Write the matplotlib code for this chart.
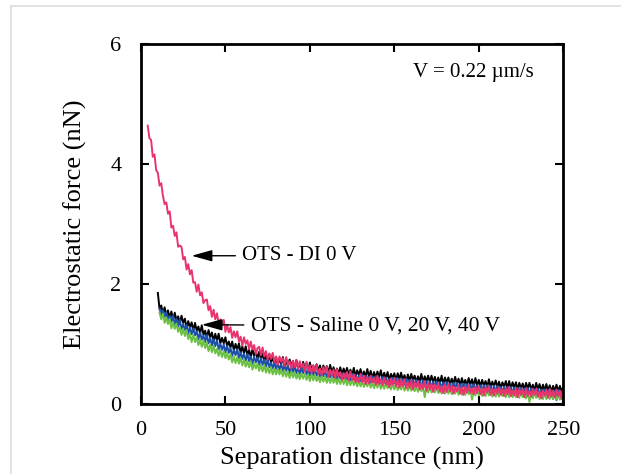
import numpy as np
import matplotlib.pyplot as plt
from matplotlib.lines import Line2D

plt.rcParams['font.family'] = ['Liberation Serif', 'DejaVu Serif']

# OTS - DI 0 V (pink), separation 4..250 nm, 1 nm step
x_di = np.arange(4, 251)
f_di = [4.64, 4.43, 4.40, 4.12, 4.16, 3.90, 3.85, 3.64, 3.68, 3.47,
        3.33, 3.36, 3.17, 3.21, 2.94, 2.97, 2.80, 2.86, 2.62, 2.64,
        2.62, 2.41, 2.45, 2.24, 2.33, 2.16, 2.23, 2.02, 2.03, 1.87,
        1.99, 1.81, 1.86, 1.68, 1.73, 1.74, 1.56, 1.63, 1.45, 1.57,
        1.41, 1.51, 1.33, 1.41, 1.32, 1.40, 1.20, 1.32, 1.19, 1.28,
        1.10, 1.21, 1.11, 1.21, 1.04, 1.12, 0.97, 1.11, 1.00, 1.06,
        0.91, 1.04, 0.91, 0.98, 0.83, 0.93, 0.95, 0.81, 0.94, 0.79,
        0.88, 0.74, 0.84, 0.75, 0.85, 0.70, 0.79, 0.65, 0.79, 0.70,
        0.76, 0.63, 0.78, 0.65, 0.71, 0.59, 0.72, 0.61, 0.73, 0.58,
        0.71, 0.60, 0.67, 0.54, 0.70, 0.55, 0.64, 0.52, 0.64, 0.54,
        0.65, 0.50, 0.59, 0.48, 0.61, 0.52, 0.62, 0.45, 0.57, 0.47,
        0.57, 0.43, 0.58, 0.46, 0.53, 0.40, 0.51, 0.42, 0.53, 0.39,
        0.54, 0.40, 0.49, 0.36, 0.45, 0.36, 0.50, 0.36, 0.47, 0.33,
        0.45, 0.34, 0.47, 0.36, 0.43, 0.32, 0.47, 0.33, 0.41, 0.31,
        0.44, 0.32, 0.40, 0.28, 0.42, 0.32, 0.43, 0.29, 0.40, 0.27,
        0.40, 0.30, 0.41, 0.26, 0.36, 0.27, 0.39, 0.24, 0.36, 0.28,
        0.38, 0.24, 0.34, 0.25, 0.38, 0.22, 0.34, 0.24, 0.34, 0.20,
        0.32, 0.24, 0.34, 0.20, 0.30, 0.18, 0.32, 0.20, 0.33, 0.21,
        0.31, 0.17, 0.28, 0.21, 0.31, 0.17, 0.28, 0.15, 0.29, 0.19,
        0.31, 0.18, 0.26, 0.16, 0.29, 0.18, 0.29, 0.16, 0.26, 0.14,
        0.28, 0.19, 0.29, 0.15, 0.25, 0.14, 0.26, 0.17, 0.27, 0.15,
        0.25, 0.13, 0.26, 0.16, 0.28, 0.13, 0.22, 0.14, 0.26, 0.11,
        0.25, 0.15, 0.24, 0.11, 0.26, 0.13, 0.22, 0.12, 0.25, 0.15,
        0.25, 0.12, 0.21, 0.09, 0.22, 0.14, 0.23, 0.10, 0.25, 0.12,
        0.22, 0.11, 0.24, 0.13, 0.22, 0.08, 0.20]

# OTS - Saline 0 V (black), 10..250 nm
x_s0 = np.arange(10, 251)
f_s0 = [1.85, 1.58, 1.64, 1.50, 1.61, 1.47, 1.56, 1.42, 1.54, 1.40,
        1.52, 1.39, 1.46, 1.34, 1.47, 1.35, 1.42, 1.26, 1.38, 1.27,
        1.36, 1.22, 1.35, 1.22, 1.29, 1.17, 1.31, 1.15, 1.22, 1.10,
        1.23, 1.11, 1.19, 1.04, 1.17, 1.05, 1.17, 1.01, 1.10, 1.01,
        1.11, 0.96, 1.04, 0.94, 1.04, 0.89, 1.00, 0.90, 1.01, 0.85,
        0.96, 0.84, 0.96, 0.81, 0.90, 0.78, 0.91, 0.80, 0.87, 0.75,
        0.87, 0.75, 0.84, 0.71, 0.82, 0.71, 0.83, 0.68, 0.78, 0.68,
        0.78, 0.65, 0.76, 0.66, 0.78, 0.62, 0.72, 0.63, 0.74, 0.64,
        0.71, 0.58, 0.73, 0.59, 0.68, 0.57, 0.70, 0.58, 0.68, 0.54,
        0.69, 0.56, 0.64, 0.54, 0.66, 0.56, 0.64, 0.51, 0.64, 0.53,
        0.63, 0.51, 0.65, 0.52, 0.61, 0.48, 0.59, 0.50, 0.61, 0.48,
        0.59, 0.50, 0.60, 0.47, 0.57, 0.47, 0.60, 0.45, 0.56, 0.48,
        0.58, 0.45, 0.54, 0.45, 0.58, 0.45, 0.55, 0.42, 0.53, 0.43,
        0.54, 0.44, 0.56, 0.41, 0.52, 0.42, 0.53, 0.39, 0.50, 0.43,
        0.51, 0.39, 0.51, 0.41, 0.52, 0.39, 0.48, 0.37, 0.49, 0.38,
        0.50, 0.39, 0.47, 0.36, 0.46, 0.37, 0.50, 0.35, 0.46, 0.37,
        0.47, 0.36, 0.47, 0.36, 0.45, 0.34, 0.44, 0.34, 0.47, 0.33,
        0.44, 0.35, 0.44, 0.32, 0.42, 0.33, 0.45, 0.33, 0.42, 0.30,
        0.43, 0.32, 0.40, 0.30, 0.43, 0.32, 0.41, 0.29, 0.43, 0.30,
        0.40, 0.29, 0.40, 0.30, 0.38, 0.28, 0.41, 0.28, 0.37, 0.29,
        0.39, 0.28, 0.37, 0.26, 0.36, 0.28, 0.38, 0.26, 0.38, 0.25,
        0.36, 0.27, 0.36, 0.24, 0.35, 0.25, 0.34, 0.23, 0.35, 0.25,
        0.35, 0.24, 0.32, 0.22, 0.35, 0.24, 0.33, 0.21, 0.32, 0.22,
        0.33, 0.22, 0.31, 0.20, 0.30, 0.21, 0.32, 0.20, 0.30, 0.21,
        0.28]

# OTS - Saline 20 V (blue), 11..250 nm
x_s20 = np.arange(11, 251)
f_s20 = [1.59, 1.48, 1.56, 1.45, 1.53, 1.38, 1.47, 1.37, 1.47, 1.32,
         1.42, 1.29, 1.40, 1.25, 1.33, 1.23, 1.32, 1.17, 1.28, 1.16,
         1.26, 1.14, 1.21, 1.08, 1.19, 1.07, 1.14, 1.03, 1.15, 1.01,
         1.10, 0.97, 1.08, 0.96, 1.06, 0.91, 1.00, 0.90, 0.99, 0.86,
         0.97, 0.85, 0.93, 0.80, 0.90, 0.81, 0.91, 0.76, 0.86, 0.75,
         0.84, 0.72, 0.83, 0.71, 0.79, 0.67, 0.79, 0.69, 0.77, 0.65,
         0.76, 0.65, 0.74, 0.62, 0.74, 0.61, 0.69, 0.59, 0.69, 0.58,
         0.67, 0.57, 0.67, 0.55, 0.64, 0.55, 0.65, 0.51, 0.63, 0.53,
         0.63, 0.51, 0.60, 0.50, 0.60, 0.51, 0.61, 0.49, 0.58, 0.47,
         0.58, 0.48, 0.58, 0.47, 0.55, 0.45, 0.55, 0.46, 0.56, 0.44,
         0.53, 0.44, 0.54, 0.44, 0.53, 0.41, 0.51, 0.42, 0.51, 0.42,
         0.51, 0.40, 0.49, 0.39, 0.50, 0.40, 0.49, 0.38, 0.47, 0.38,
         0.49, 0.38, 0.47, 0.37, 0.45, 0.35, 0.46, 0.36, 0.46, 0.35,
         0.44, 0.34, 0.45, 0.35, 0.44, 0.33, 0.42, 0.32, 0.43, 0.34,
         0.43, 0.33, 0.42, 0.31, 0.41, 0.32, 0.42, 0.31, 0.40, 0.30,
         0.40, 0.30, 0.40, 0.30, 0.38, 0.28, 0.39, 0.29, 0.38, 0.28,
         0.37, 0.28, 0.37, 0.28, 0.38, 0.27, 0.36, 0.26, 0.36, 0.27,
         0.36, 0.26, 0.34, 0.24, 0.35, 0.26, 0.35, 0.24, 0.33, 0.24,
         0.34, 0.25, 0.33, 0.23, 0.32, 0.23, 0.33, 0.23, 0.31, 0.22,
         0.31, 0.22, 0.31, 0.22, 0.31, 0.21, 0.30, 0.20, 0.30, 0.21,
         0.30, 0.20, 0.28, 0.19, 0.29, 0.20, 0.28, 0.18, 0.28, 0.18,
         0.27, 0.18, 0.27, 0.18, 0.27, 0.17, 0.26, 0.16, 0.26, 0.17,
         0.26, 0.16, 0.24, 0.14, 0.25, 0.16, 0.24, 0.13, 0.24, 0.14,
         0.23, 0.14, 0.23, 0.08, 0.22, 0.06, 0.23, 0.12, 0.21, 0.12]

# OTS - Saline 40 V (green), 11..250 nm
x_s40 = np.arange(11, 251)
f_s40 = [1.52, 1.41, 1.50, 1.35, 1.44, 1.33, 1.42, 1.26, 1.36, 1.25,
         1.34, 1.20, 1.28, 1.15, 1.25, 1.13, 1.23, 1.08, 1.17, 1.03,
         1.15, 1.03, 1.11, 0.98, 1.07, 0.95, 1.06, 0.93, 1.02, 0.88,
         0.99, 0.86, 0.97, 0.84, 0.92, 0.80, 0.90, 0.78, 0.88, 0.76,
         0.85, 0.74, 0.83, 0.69, 0.79, 0.68, 0.78, 0.67, 0.77, 0.64,
         0.74, 0.62, 0.71, 0.61, 0.71, 0.57, 0.68, 0.59, 0.67, 0.55,
         0.65, 0.54, 0.65, 0.52, 0.61, 0.51, 0.61, 0.49, 0.59, 0.49,
         0.58, 0.49, 0.57, 0.46, 0.56, 0.45, 0.54, 0.43, 0.54, 0.44,
         0.53, 0.42, 0.51, 0.41, 0.51, 0.42, 0.50, 0.40, 0.49, 0.38,
         0.49, 0.39, 0.48, 0.38, 0.46, 0.36, 0.46, 0.37, 0.46, 0.35,
         0.44, 0.35, 0.44, 0.35, 0.44, 0.33, 0.42, 0.33, 0.42, 0.33,
         0.42, 0.31, 0.40, 0.31, 0.40, 0.31, 0.39, 0.29, 0.39, 0.29,
         0.38, 0.28, 0.38, 0.29, 0.37, 0.27, 0.36, 0.26, 0.36, 0.27,
         0.36, 0.25, 0.34, 0.25, 0.35, 0.26, 0.33, 0.24, 0.34, 0.24,
         0.33, 0.23, 0.33, 0.24, 0.32, 0.22, 0.31, 0.22, 0.31, 0.22,
         0.31, 0.21, 0.29, 0.20, 0.30, 0.21, 0.29, 0.11, 0.29, 0.19,
         0.28, 0.19, 0.28, 0.19, 0.28, 0.18, 0.27, 0.17, 0.27, 0.17,
         0.27, 0.17, 0.25, 0.16, 0.26, 0.17, 0.25, 0.15, 0.25, 0.15,
         0.24, 0.15, 0.25, 0.16, 0.24, 0.07, 0.23, 0.14, 0.24, 0.14,
         0.24, 0.13, 0.22, 0.13, 0.23, 0.14, 0.22, 0.12, 0.22, 0.12,
         0.21, 0.12, 0.22, 0.13, 0.21, 0.11, 0.20, 0.11, 0.21, 0.11,
         0.21, 0.11, 0.19, 0.10, 0.20, 0.11, 0.19, 0.09, 0.19, 0.03,
         0.18, 0.09, 0.19, 0.10, 0.18, 0.08, 0.17, 0.08, 0.18, 0.08,
         0.17, 0.08, 0.17, 0.08, 0.17, 0.07, 0.16, 0.07, 0.17, 0.07]

fig = plt.figure(figsize=(6.21, 4.74), dpi=100)
ax = fig.add_axes([0.227, 0.148, 0.68, 0.759])

ax.plot(x_s0, f_s0, color='black', lw=1.4)
ax.plot(x_s20, f_s20, color='#1c4fa8', lw=1.4)
ax.plot(x_s40, f_s40, color='#6cc043', lw=1.4)
ax.plot(x_di, f_di, color='#e8336d', lw=1.4)

ax.set_xlim(0, 250)
ax.set_ylim(0, 6)
ax.set_xticks([0, 50, 100, 150, 200, 250])
ax.set_yticks([0, 2, 4, 6])
ax.tick_params(direction='in', top=True, right=True, length=6, width=1.5,
               labelsize=16)
ax.tick_params(axis='x', pad=12)
ax.tick_params(axis='y', pad=14)
for s in ax.spines.values():
    s.set_linewidth(2)

ax.set_xlabel('Separation distance (nm)', fontsize=19, labelpad=5)
ax.set_ylabel('Electrostatic force (nN)', fontsize=19, labelpad=17)

arrow = dict(arrowstyle='-|>,head_length=0.9,head_width=0.25', color='black',
             lw=1, mutation_scale=14, shrinkA=3, shrinkB=0)
ax.annotate('OTS - DI 0 V', xy=(30, 2.47), xytext=(60, 2.47),
            fontsize=15, va='center', arrowprops=arrow)
ax.annotate('OTS - Saline 0 V, 20 V, 40 V', xy=(36, 1.32), xytext=(65, 1.3),
            fontsize=15.5, va='center', arrowprops=arrow)
ax.text(161, 5.53, 'V = 0.22 \u00b5m/s', fontsize=15, va='center')

# light frame around the figure
fig.add_artist(Line2D([11 / 621, 11 / 621], [0, 1 - 6 / 474],
                      color='#dddddd', lw=1.2))
fig.add_artist(Line2D([11 / 621, 1], [1 - 6 / 474, 1 - 6 / 474],
                      color='#dddddd', lw=1.2))

fig.savefig('out.png', dpi=100)
